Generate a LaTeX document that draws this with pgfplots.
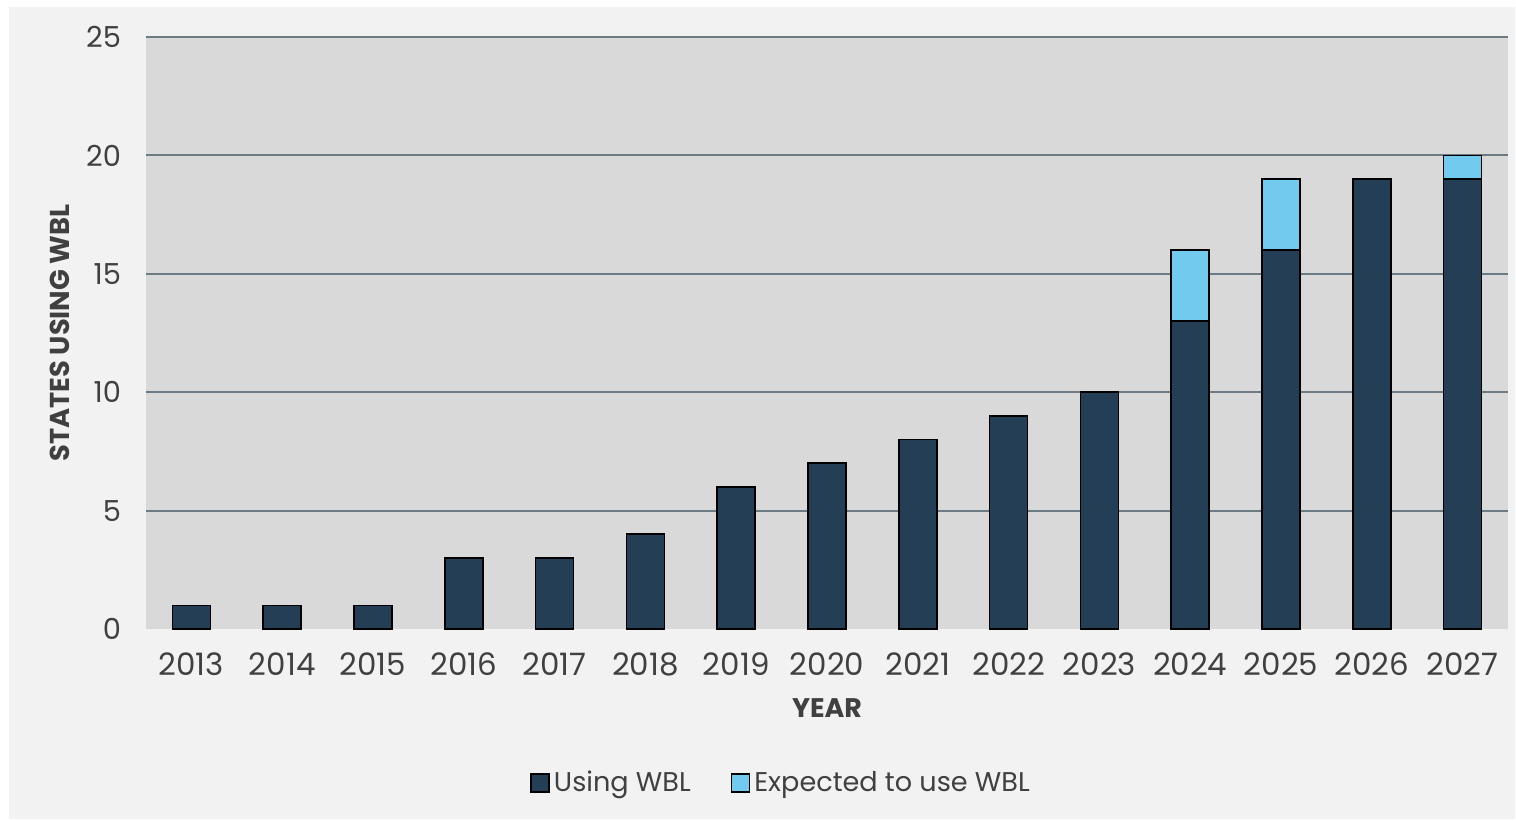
\documentclass[border=0pt]{standalone}
\usepackage{fontspec}
\setmainfont{Poppins}
\usepackage{pgfplots}
\pgfplotsset{compat=1.18}
\definecolor{bgpanel}{HTML}{F2F2F2}
\definecolor{plotbg}{HTML}{D9D9D9}
\definecolor{gridc}{HTML}{6C7A84}
\definecolor{navy}{HTML}{243F55}
\definecolor{sky}{HTML}{72CBEE}
\definecolor{txt}{HTML}{404040}
\begin{document}
\begin{tikzpicture}[x=1bp,y=1bp]
\useasboundingbox (0,0) rectangle (758,410);
\fill[white] (0,0) rectangle (758,410);
\fill[bgpanel] (4.5,0.5) rectangle (757.5,406.5);
\begin{axis}[at={(73bp,95.5bp)}, anchor=south west, scale only axis,
  width=681bp, height=296bp,
  xmin=-0.5, xmax=14.5, ymin=0, ymax=25,
  axis line style={draw=none},
  axis background/.style={fill=plotbg},
  ytick={5,10,15,20,25}, extra y ticks={0}, extra y tick style={grid=none},
  ymajorgrids, grid style={gridc, line width=1bp},
  xtick={0,...,14},
  xticklabels={2013,2014,2015,2016,2017,2018,2019,2020,2021,2022,2023,2024,2025,2026,2027},
  major tick length=0pt, tick style={draw=none},
  /pgf/number format/assume math mode=true,
  ticklabel style={text=txt},
  yticklabel style={xshift=-9bp, font=\fontsize{14.5}{16}\selectfont},
  xticklabel style={yshift=-8.5bp, font=\fontsize{15.5}{17}\selectfont},
  ylabel={STATES USING WBL},
  ylabel style={at={(axis description cs:-0.0631,0.5)}, anchor=center, font=\bfseries\fontsize{13.7}{15}\selectfont, text=txt},
  xlabel={YEAR},
  xlabel style={at={(axis description cs:0.5,-0.1334)}, anchor=center, font=\bfseries\fontsize{13.5}{15}\selectfont, text=txt},
  legend style={at={(axis description cs:0.467,-0.26)}, anchor=center, draw=none, fill=none,
    font=\fontsize{13.6}{16}\selectfont, text=txt,
    /tikz/every even column/.append style={column sep=18bp}},
  legend columns=2,
  legend cell align=left,
  legend image code/.code={\draw[#1, draw=black, line width=0.8bp] (0bp,-4.5bp) rectangle (9bp,4.5bp);},
]
\addlegendimage{fill=navy}
\addlegendentry{Using WBL}
\addlegendimage{fill=sky}
\addlegendentry{Expected to use WBL}
% totals (using + expected), drawn first
\addplot[ybar, bar width=19bp, bar shift=0pt, fill=sky, draw=black, line width=0.8bp, forget plot]
  coordinates {(11,16) (12,19) (14,20)};
\addplot[ybar, bar width=19bp, bar shift=0pt, fill=navy, draw=black, line width=0.8bp, forget plot]
  coordinates {(0,1) (1,1) (2,1) (3,3) (4,3) (5,4) (6,6) (7,7) (8,8) (9,9) (10,10) (11,13) (12,16) (13,19) (14,19)};
\end{axis}
\end{tikzpicture}
\end{document}
